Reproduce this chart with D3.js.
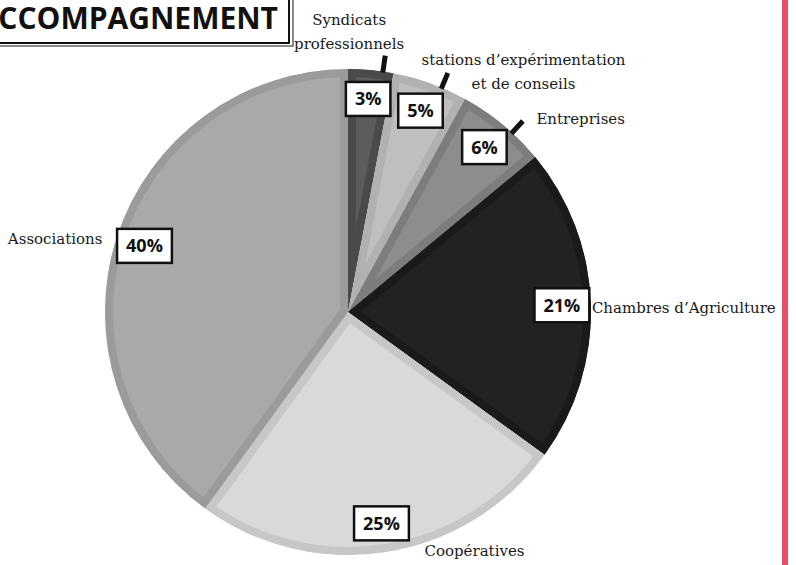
<!DOCTYPE html>
<html>
<head>
<meta charset="utf-8">
<script src="https://cdn.jsdelivr.net/npm/d3@7"></script>
<style>
  body { margin: 0; background: #fff; }
  svg { display: block; }
</style>
</head>
<body>
<div class="container"></div>
<script>
  // chart data
  var categories = ["Syndicats professionnels", "stations d’expérimentation et de conseils", "Entreprises",
                    "Chambres d’Agriculture", "Coopératives", "Associations"];
  var shares = [3, 5, 6, 21, 25, 40];
  var labelLines = [["Syndicats", "professionnels"], ["stations d’expérimentation", "et de conseils"], ["Entreprises"],
                    ["Chambres d’Agriculture"], ["Coopératives"], ["Associations"]];

  // slice colours (fill, inner edge)
  var fills = ["#5c5c5c", "#bfbfbf", "#8d8d8d", "#222222", "#d9d9d9", "#a9a9a9"];
  var edges = ["#4a4a4a", "#b1b1b1", "#7d7d7d", "#1a1a1a", "#c7c7c7", "#9b9b9b"];

  // label placement relative to the percent box (dx, first baseline dy, anchor)
  var labelSpots = [[-19, -74, "middle"], [103, -46, "middle"], [52, -23, "start"],
                    [30, 8, "start"], [43, 33, "start"], [-42, -2, "end"]];
  var hasLeader = [true, true, true, false, false, false];

  var w = 796, h = 565;
  var cx = 348, cy = 312, r = 243;

  var svg = d3.select(".container").append("svg").attr("width", w).attr("height", h);

  // title box, cut by the left edge
  svg.append("rect").attr("x", -8).attr("y", -8).attr("width", 301).attr("height", 54)
    .attr("fill", "none").attr("stroke", "#666").attr("stroke-width", 1.5);
  svg.append("rect").attr("x", -10).attr("y", -10).attr("width", 299).attr("height", 53)
    .attr("fill", "#fff").attr("stroke", "#111").attr("stroke-width", 2);
  svg.append("text").attr("x", 278).attr("y", 29).attr("text-anchor", "end")
    .attr("font-family", "Open Sans").attr("font-weight", "bold").attr("font-size", 30)
    .attr("fill", "#111").text("ACCOMPAGNEMENT");

  // pink side bar
  svg.append("rect").attr("x", 782).attr("y", 0).attr("width", 6).attr("height", h).attr("fill", "#e84e69");

  var pie = d3.pie().sort(null).value(function(d){ return d; });
  var arcs = pie(shares);
  var arc = d3.arc().innerRadius(0).outerRadius(r);
  var boxArc = d3.arc().innerRadius(214).outerRadius(214);

  var g = svg.append("g").attr("transform", "translate(" + cx + "," + cy + ")");
  var defs = svg.append("defs");

  arcs.forEach(function(d, i){
    defs.append("clipPath").attr("id", "clip" + i)
      .append("path").attr("d", arc(d));
  });

  g.selectAll("path.slice")
    .data(arcs)
    .enter()
    .append("path")
    .attr("class", "slice")
    .attr("d", arc)
    .attr("fill", function(d, i){ return fills[i]; })
    .attr("stroke", function(d, i){ return edges[i]; })
    .attr("stroke-width", 16)
    .attr("clip-path", function(d, i){ return "url(#clip" + i + ")"; });

  // leader lines for the small slices
  arcs.forEach(function(d, i){
    if(!hasLeader[i]) return;
    var a = (d.startAngle + d.endAngle) / 2 + 0.05;
    g.append("line")
      .attr("x1", Math.sin(a) * (r - 1)).attr("y1", -Math.cos(a) * (r - 1))
      .attr("x2", Math.sin(a) * (r + 16)).attr("y2", -Math.cos(a) * (r + 16))
      .attr("stroke", "#111").attr("stroke-width", 5);
  });

  // percent boxes
  arcs.forEach(function(d, i){
    var c = boxArc.centroid(d);
    var lg = g.append("g").attr("transform", "translate(" + c[0] + "," + c[1] + ")");
    var rect = lg.append("rect");
    var t = lg.append("text").attr("text-anchor", "middle").attr("dy", "0.36em")
      .attr("font-family", "Open Sans").attr("font-weight", "bold").attr("font-size", 18)
      .attr("fill", "#111").text(shares[i] + "%");
    var tw = t.node().getComputedTextLength() + 18;
    rect.attr("x", -tw / 2).attr("y", -17).attr("width", tw).attr("height", 34)
      .attr("fill", "#fff").attr("stroke", "#111").attr("stroke-width", 2.5);

    var spot = labelSpots[i];
    var lbl = lg.append("text").attr("text-anchor", spot[2])
      .attr("font-family", "DejaVu Serif").attr("font-size", 15).attr("fill", "#1a1a1a");
    labelLines[i].forEach(function(line, k){
      lbl.append("tspan").attr("x", spot[0]).attr("y", spot[1] + k * 24).text(line);
    });
  });
</script>
</body>
</html>
